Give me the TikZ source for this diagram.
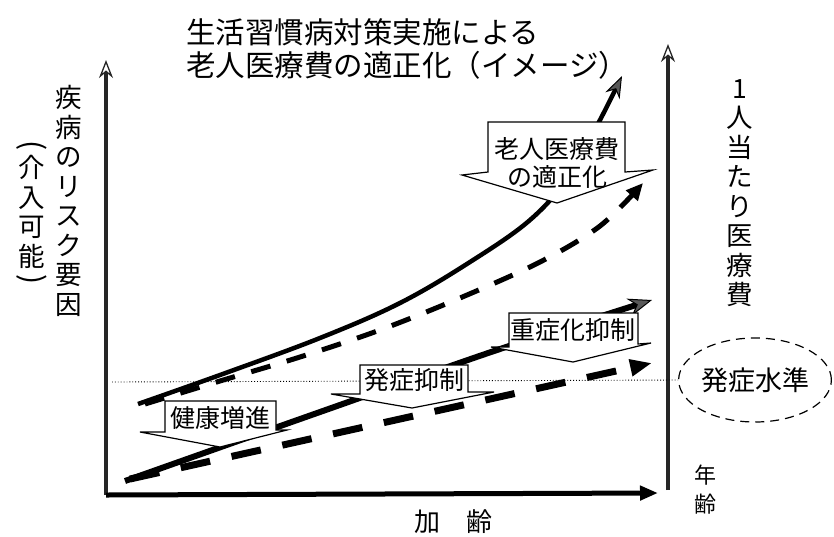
\documentclass[tikz,border=0pt]{standalone}
\usepackage{fontspec}
\setmainfont{Noto Sans CJK JP}
\usetikzlibrary{arrows.meta,shapes.geometric}
\begin{document}
\begin{tikzpicture}[x=1pt,y=-1pt,
  axisline/.style={line width=4.5pt,black!85,-{Stealth[open,length=18pt,width=14pt,line width=1.3pt]}},
  haxis/.style={line width=5pt,black,-{Triangle[length=18pt,width=14pt]}},
  upsolid/.style={line width=4.5pt,black,-{Stealth[length=22pt,width=16pt,line width=1pt,fill=black!65]}},
  updash/.style={line width=5pt,black,dash pattern=on 20pt off 17pt,-{Triangle[length=17pt,width=15pt]}},
  lowsolid/.style={line width=6pt,black,-{Stealth[length=24pt,width=18pt,line width=1pt,fill=black!65]}},
  lowdash/.style={line width=7pt,black,dash pattern=on 30pt off 22pt,-{Triangle[length=22pt,width=16pt]}},
  callout/.style={draw=black,fill=white,line width=1.2pt,line join=miter},
  ctext/.style={font=\fontsize{25}{28}\selectfont,inner sep=0pt,align=center},
  vlabel/.style={font=\fontsize{26.5}{29.5}\selectfont,align=center,inner sep=0pt},
  ttl/.style={anchor=west,font=\fontsize{29.5}{32}\selectfont,inner sep=0pt},
]
\useasboundingbox[fill=white] (0,0) rectangle (834,536);

% title
\node[ttl] (t1) at (186,32) {生活習慣病対策実施による};
\node[ttl] (t2) at (186,65) {老人医療費の適正化（イメージ）};

% axes
\coordinate (O) at (106,495);
\coordinate (Ytop) at (106,60);
\coordinate (Xend) at (658,493);
\coordinate (Rbot) at (668,490);
\coordinate (Rtop) at (668,44);
\draw[axisline] (O) -- (Ytop);
\draw[axisline] (Rbot) -- (Rtop);
\draw[haxis] (O) -- (Xend);

% axis labels
\node[vlabel] (riskL) at (69,201) {疾\\病\\の\\リ\\ス\\ク\\要\\因};
\node[font=\fontsize{30}{30}\selectfont,inner sep=0pt] (lpar) at (32,146) {\rotatebox{-90}{(}};
\node[vlabel] (kainyu) at (32,212) {介\\入\\可\\能};
\node[font=\fontsize{30}{30}\selectfont,inner sep=0pt] (rpar) at (32,280) {\rotatebox{-90}{)}};
\node[vlabel] (costR) at (740,193) {1\\人\\当\\た\\り\\医\\療\\費};
\node[font=\fontsize{22}{29}\selectfont,align=center,inner sep=0pt] (nenrei) at (705,490) {年\\齢};
\node[font=\fontsize{26}{30}\selectfont,inner sep=0pt] (karei) at (453,522) {加　齢};

% onset level
\node[draw,ellipse,line width=1.2pt,dash pattern=on 9pt off 6pt,minimum width=136pt,minimum height=84pt,inner sep=0pt,font=\fontsize{27}{29}\selectfont] (onset) at (755,380) {発症水準};
\coordinate (dotL) at (112,382);
\draw[dotted,line width=0.9pt] (dotL) -- (onset.west);

% curves
\draw[upsolid] plot[smooth,tension=0.6] coordinates {(138,404) (220,375) (320,338) (400,303) (470,262) (530,220) (570,175) (600,120) (622,76)};
\draw[updash] plot[smooth,tension=0.55] coordinates {(145,404) (220,381) (300,357) (380,330) (460,298) (540,262) (600,226) (643,183)};
\draw[lowsolid] plot[smooth,tension=0.5] coordinates {(125,481) (320,412) (497,350) (652,300)};
\draw[lowdash] (130,479) -- (652,363);

% callouts
\filldraw[callout] (488,122) -- (625,122) -- (625,172) -- (653,170) -- (557,203) -- (462,175) -- (488,172) -- cycle;
\node[ctext] (c1) at (557,163) {老人医療費\\の適正化};

\filldraw[callout] (165,401) -- (276,401) -- (276,430) -- (287,430) -- (220,447) -- (140,432) -- (165,432) -- cycle;
\node[ctext] (c2) at (220,418) {健康増進};

\filldraw[callout] (360,365) -- (468,365) -- (468,392) -- (494,392) -- (412,408) -- (331,394) -- (360,394) -- cycle;
\node[ctext] (c3) at (414,380) {発症抑制};

\filldraw[callout] (509,313) -- (638,313) -- (638,344) -- (651,343) -- (573,362) -- (491,347) -- (509,347) -- cycle;
\node[ctext] (c4) at (573,330) {重症化抑制};
\end{tikzpicture}
\end{document}
